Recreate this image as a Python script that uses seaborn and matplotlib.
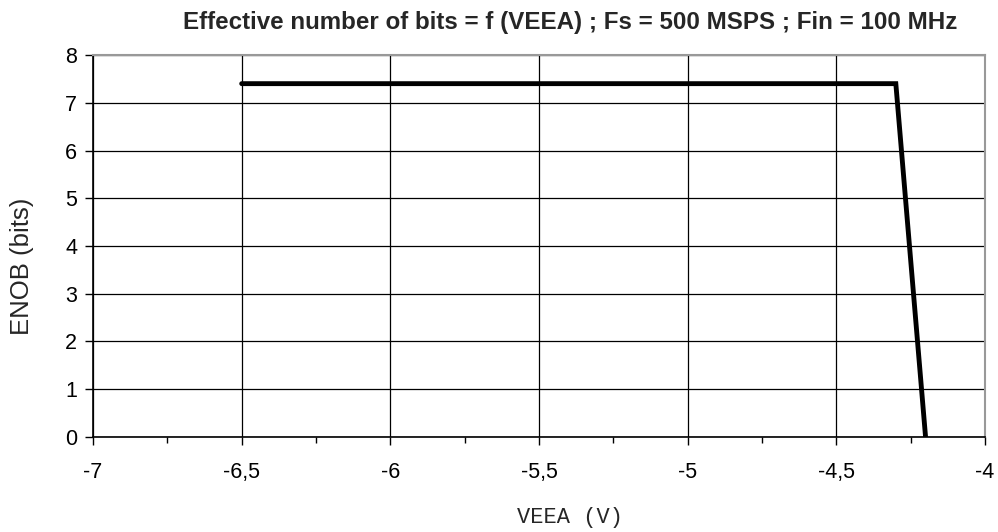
import numpy as np
import pandas as pd
import seaborn as sns
import matplotlib.pyplot as plt
import matplotlib.ticker as ticker

# ENOB vs VEEA
veea = [-6.5, -6.0, -5.5, -5.0, -4.5, -4.3, -4.2]
enob = [7.4, 7.4, 7.4, 7.4, 7.4, 7.4, 0.0]

df = pd.DataFrame({"veea": veea, "enob": enob})

sns.set_style("white")
plt.rcParams['font.family'] = ['Liberation Sans', 'DejaVu Sans']

fig = plt.figure(figsize=(9.98, 5.32), dpi=100)
ax = fig.add_axes([0.0932, 0.1786, 0.8938, 0.718])

sns.lineplot(data=df, x="veea", y="enob", ax=ax, color="black", linewidth=3.5,
             solid_joinstyle="miter", sort=False)

ax.set_xlim(-7, -4)
ax.set_ylim(0, 8)
ax.xaxis.set_major_locator(ticker.MultipleLocator(0.5))
ax.xaxis.set_minor_locator(ticker.MultipleLocator(0.25))
ax.yaxis.set_major_locator(ticker.MultipleLocator(1))
ax.xaxis.set_major_formatter(ticker.FuncFormatter(lambda v, p: f"{v:g}".replace(".", ",")))

ax.grid(True, which="major", color="black", linewidth=0.9)
ax.tick_params(axis="both", which="major", direction="out", length=6, width=1,
               labelsize=15.5, colors="black", bottom=True, left=True)
ax.tick_params(axis="x", which="minor", direction="out", length=4, width=1,
               bottom=True, color="black")
ax.tick_params(axis="x", pad=12)
ax.tick_params(axis="y", pad=5.5)

for s in ["left", "bottom"]:
    ax.spines[s].set_color("black")
    ax.spines[s].set_linewidth(1.2)
for s in ["top", "right"]:
    ax.spines[s].set_color("#999999")
    ax.spines[s].set_linewidth(1.5)

ax.set_xlabel("")
ax.set_ylabel("")
fig.text(0.571, 0.958, "Effective number of bits = f (VEEA) ; Fs = 500 MSPS ; Fin = 100 MHz",
         ha="center", va="center", fontsize=17.4, fontweight="bold")
fig.text(0.571, 0.028, "VEEA (V)", ha="center", va="center", fontsize=15.8,
         family=["Liberation Mono", "DejaVu Sans Mono"])
fig.text(0.022, 0.5, "ENOB (bits)", ha="center", va="center", fontsize=18.5, rotation=90)

fig.savefig("out.png", dpi=100)
